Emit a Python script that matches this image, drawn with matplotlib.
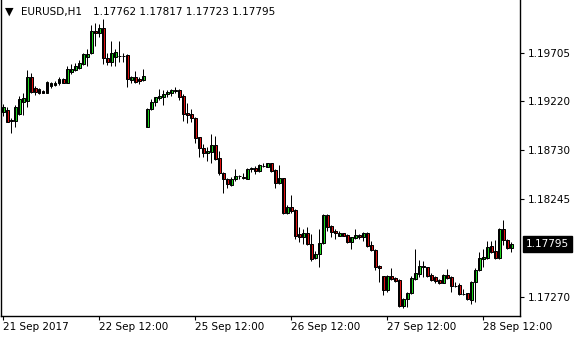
import numpy as np
import matplotlib
matplotlib.use("Agg")
import matplotlib.pyplot as plt
import matplotlib.transforms as mtransforms

# EURUSD H1 bars
opens = [
    1.19113, 1.19133, 1.19030, 1.19023, 1.19096, 1.19209, 1.19222, 1.19458, 1.19349, 1.19339,
    1.19325, 1.19305, 1.19372, 1.19385, 1.19398, 1.19441, 1.19404, 1.19508, 1.19531, 1.19554,
    1.19591, 1.19663, 1.19697, 1.19922, 1.19896, 1.19946, 1.19647, 1.19614, 1.19663, 1.19667,
    1.19673, 1.19680, 1.19431, 1.19458, 1.19441, 1.19431, 1.18966, 1.19139, 1.19215, 1.19255,
    1.19265, 1.19292, 1.19305, 1.19322, 1.19332, 1.19272, 1.19100, 1.19093, 1.19050, 1.18861,
    1.18751, 1.18701, 1.18717, 1.18784, 1.18651, 1.18502, 1.18445, 1.18389, 1.18442, 1.18472,
    1.18462, 1.18448, 1.18548, 1.18558, 1.18528, 1.18572, 1.18568, 1.18602, 1.18535, 1.18402,
    1.18452, 1.18110, 1.18163, 1.18137, 1.17897, 1.17871, 1.17904, 1.17795, 1.17655, 1.17695,
    1.17805, 1.18087, 1.17977, 1.17930, 1.17881, 1.17910, 1.17888, 1.17821, 1.17861, 1.17888,
    1.17871, 1.17904, 1.17785, 1.17738, 1.17579, 1.17479, 1.17340, 1.17479, 1.17456, 1.17439,
    1.17180, 1.17250, 1.17307, 1.17449, 1.17499, 1.17579, 1.17566, 1.17489, 1.17466, 1.17439,
    1.17412, 1.17489, 1.17472, 1.17383, 1.17390, 1.17303, 1.17307, 1.17240, 1.17422, 1.17539,
    1.17651, 1.17655, 1.17778, 1.17731, 1.17655, 1.17944, 1.17838, 1.17762]

highs = [
    1.19192, 1.19165, 1.19050, 1.19182, 1.19272, 1.19299, 1.19531, 1.19504, 1.19372, 1.19352,
    1.19332, 1.19421, 1.19414, 1.19418, 1.19458, 1.19454, 1.19571, 1.19591, 1.19598, 1.19631,
    1.19703, 1.19737, 1.19979, 1.20002, 1.19989, 1.20039, 1.19697, 1.19823, 1.19737, 1.19823,
    1.19697, 1.19687, 1.19471, 1.19524, 1.19458, 1.19538, 1.19149, 1.19245, 1.19265, 1.19339,
    1.19332, 1.19332, 1.19345, 1.19365, 1.19345, 1.19289, 1.19199, 1.19145, 1.19060, 1.18867,
    1.18794, 1.18767, 1.18893, 1.18874, 1.18727, 1.18518, 1.18452, 1.18462, 1.18542, 1.18482,
    1.18502, 1.18552, 1.18568, 1.18575, 1.18592, 1.18608, 1.18608, 1.18608, 1.18542, 1.18585,
    1.18458, 1.18186, 1.18286, 1.18144, 1.17964, 1.17944, 1.17964, 1.17894, 1.17731, 1.17944,
    1.18097, 1.18097, 1.17987, 1.17944, 1.17930, 1.17910, 1.17894, 1.17871, 1.17947, 1.17897,
    1.17917, 1.17917, 1.17828, 1.17745, 1.17586, 1.17479, 1.17489, 1.17556, 1.17466, 1.17446,
    1.17257, 1.17323, 1.17479, 1.17745, 1.17639, 1.17632, 1.17572, 1.17506, 1.17479, 1.17449,
    1.17499, 1.17546, 1.17479, 1.17416, 1.17406, 1.17347, 1.17313, 1.17432, 1.17556, 1.17721,
    1.17745, 1.17831, 1.17831, 1.17838, 1.17954, 1.18037, 1.17845, 1.17817]

lows = [
    1.19073, 1.19010, 1.18900, 1.18966, 1.19083, 1.19083, 1.19162, 1.19305, 1.19282, 1.19292,
    1.19302, 1.19299, 1.19349, 1.19372, 1.19382, 1.19398, 1.19398, 1.19491, 1.19521, 1.19538,
    1.19581, 1.19571, 1.19690, 1.19770, 1.19860, 1.19591, 1.19581, 1.19571, 1.19571, 1.19614,
    1.19614, 1.19359, 1.19404, 1.19398, 1.19391, 1.19424, 1.18963, 1.19133, 1.19172, 1.19232,
    1.19179, 1.19259, 1.19272, 1.19299, 1.19232, 1.19026, 1.19000, 1.19016, 1.18801, 1.18667,
    1.18661, 1.18628, 1.18608, 1.18635, 1.18485, 1.18309, 1.18359, 1.18376, 1.18428, 1.18442,
    1.18442, 1.18442, 1.18518, 1.18492, 1.18518, 1.18562, 1.18562, 1.18518, 1.18353, 1.18395,
    1.18097, 1.18097, 1.18110, 1.17845, 1.17821, 1.17798, 1.17788, 1.17632, 1.17645, 1.17566,
    1.17798, 1.17930, 1.17865, 1.17845, 1.17878, 1.17878, 1.17811, 1.17751, 1.17848, 1.17848,
    1.17831, 1.17771, 1.17728, 1.17539, 1.17422, 1.17290, 1.17323, 1.17439, 1.17416, 1.17173,
    1.17157, 1.17173, 1.17300, 1.17439, 1.17466, 1.17466, 1.17466, 1.17432, 1.17412, 1.17400,
    1.17406, 1.17452, 1.17323, 1.17367, 1.17290, 1.17290, 1.17240, 1.17200, 1.17223, 1.17532,
    1.17572, 1.17645, 1.17711, 1.17645, 1.17645, 1.17788, 1.17745, 1.17723]

closes = [
    1.19162, 1.19016, 1.19026, 1.19159, 1.19239, 1.19249, 1.19458, 1.19315, 1.19315, 1.19299,
    1.19305, 1.19414, 1.19398, 1.19398, 1.19438, 1.19404, 1.19538, 1.19541, 1.19571, 1.19598,
    1.19690, 1.19690, 1.19919, 1.19896, 1.19946, 1.19647, 1.19614, 1.19703, 1.19707, 1.19673,
    1.19667, 1.19438, 1.19458, 1.19414, 1.19421, 1.19468, 1.19142, 1.19215, 1.19259, 1.19275,
    1.19292, 1.19315, 1.19332, 1.19327, 1.19265, 1.19093, 1.19083, 1.19050, 1.18857, 1.18751,
    1.18701, 1.18724, 1.18784, 1.18644, 1.18502, 1.18442, 1.18392, 1.18445, 1.18472, 1.18478,
    1.18455, 1.18545, 1.18552, 1.18528, 1.18585, 1.18578, 1.18602, 1.18522, 1.18402, 1.18458,
    1.18110, 1.18163, 1.18130, 1.17881, 1.17871, 1.17904, 1.17795, 1.17645, 1.17695, 1.17805,
    1.18087, 1.17970, 1.17914, 1.17910, 1.17910, 1.17881, 1.17821, 1.17865, 1.17888, 1.17871,
    1.17904, 1.17781, 1.17738, 1.17572, 1.17556, 1.17340, 1.17479, 1.17446, 1.17432, 1.17180,
    1.17247, 1.17307, 1.17456, 1.17506, 1.17579, 1.17566, 1.17479, 1.17439, 1.17429, 1.17412,
    1.17489, 1.17462, 1.17380, 1.17380, 1.17300, 1.17300, 1.17247, 1.17422, 1.17539, 1.17655,
    1.17665, 1.17771, 1.17721, 1.17655, 1.17944, 1.17838, 1.17755, 1.17795]

# axis labels
time_ticks = [0, 24, 48, 72, 96, 120]
time_labels = ["21 Sep 2017", "22 Sep 12:00", "25 Sep 12:00",
               "26 Sep 12:00", "27 Sep 12:00", "28 Sep 12:00"]
price_ticks = [1.17270, 1.18245, 1.18730, 1.19220, 1.19705]

symbol = "EURUSD,H1"
last_price = closes[-1]

o = np.array(opens)
h = np.array(highs)
l = np.array(lows)
c = np.array(closes)
x = np.arange(len(o))

up_col = "#1ed81e"
down_col = "#e01010"
px = 0.72  # 1 pixel in points at 100 dpi

fig = plt.figure(figsize=(5.8, 3.4), dpi=100)
ax = fig.add_axes([1 / 580, 24 / 340, 519 / 580, 316 / 340])

# wicks
ax.vlines(x, l, h, color="black", linewidth=px)

# bodies
up = c >= o
bottoms = np.minimum(o, c)
heights = np.abs(c - o)
colors = np.where(up, up_col, down_col)
ax.bar(x, heights, bottom=bottoms, width=0.6, color=colors,
       edgecolor="black", linewidth=px)

ax.set_xlim(-0.575, 129.175)
ax.set_ylim(1.170808, 1.202281)

ax.spines["top"].set_visible(False)
for side in ["left", "bottom", "right"]:
    ax.spines[side].set_linewidth(1)
    ax.spines[side].set_color("black")

# price scale on the right
ax.yaxis.tick_right()
ax.set_yticks(price_ticks)
ax.set_yticklabels(["%.5f" % p for p in price_ticks])
ax.tick_params(axis="y", direction="out", length=3, width=0.8, pad=2.5,
               labelsize=7.5, colors="black")
ax.tick_params(axis="x", direction="out", length=3, width=0.8, pad=1.5,
               labelsize=7.5, colors="black")
ax.set_xticks(time_ticks)
ax.set_xticklabels(time_labels, ha="left")

# last price marker
trans = mtransforms.blended_transform_factory(ax.transAxes, ax.transData)
ax.text(1.0116, last_price, "%.5f" % last_price, transform=trans,
        ha="left", va="center", fontsize=7.5, color="white",
        bbox=dict(boxstyle="square,pad=0.3", fc="black", ec="black"),
        clip_on=False)

# header
fig.text(5 / 580, 1 - 12 / 340, "\u25BC", fontsize=8, va="center", ha="left")
fig.text(21 / 580, 1 - 12 / 340, symbol, fontsize=7.5, va="center", ha="left")
fig.text(93 / 580, 1 - 12 / 340, "%.5f %.5f %.5f %.5f" % (o[-1], h[-1], l[-1], c[-1]),
         fontsize=7.5, va="center", ha="left")

fig.savefig("out.png", dpi=100)
